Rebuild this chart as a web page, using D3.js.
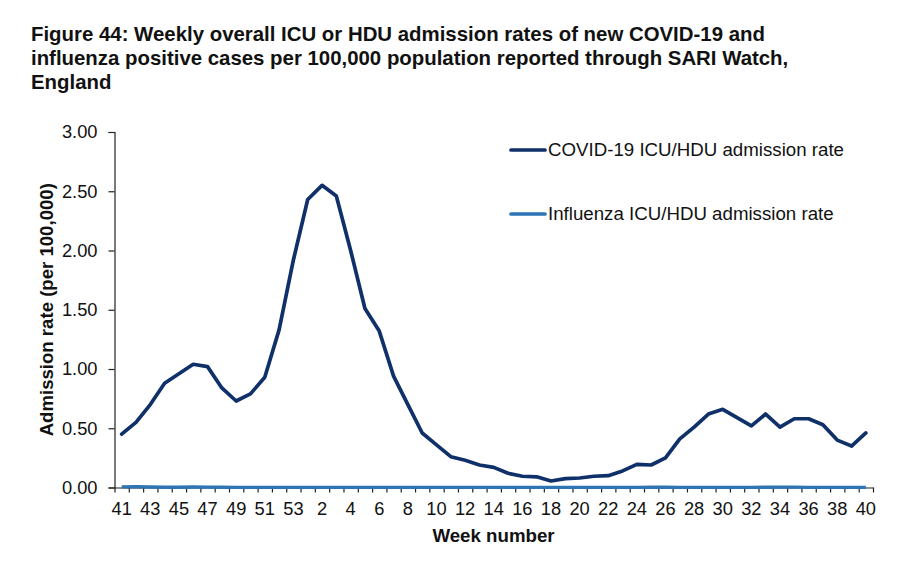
<!DOCTYPE html>
<html><head><meta charset="utf-8">
<script src="https://cdn.jsdelivr.net/npm/d3@7/dist/d3.min.js"></script>
<style>html,body{margin:0;padding:0;background:#fff}svg{display:block}
text{font-family:"Liberation Sans",Arial,sans-serif;fill:#111}</style></head>
<body><svg id="c" width="915" height="568"></svg>
<script>
const weeks=[41,42,43,44,45,46,47,48,49,50,51,52,53,1,2,3,4,5,6,7,8,9,10,11,12,13,14,15,16,17,18,19,20,21,22,23,24,25,26,27,28,29,30,31,32,33,34,35,36,37,38,39,40];
const covid=[.45,.55,.70,.88,.96,1.04,1.02,.84,.73,.79,.93,1.33,1.92,2.43,2.55,2.46,2.00,1.51,1.32,.94,.70,.46,.36,.26,.23,.19,.17,.12,.095,.09,.055,.075,.08,.095,.10,.14,.195,.19,.25,.41,.51,.62,.66,.59,.52,.62,.51,.58,.58,.53,.40,.35,.46];
const flu=[.005,.006,.004,.002,.002,.004,.003,.002,.001,.001,.001,.001,.001,.001,.001,.001,.001,.001,.001,.001,.001,.001,.001,.001,.001,.001,.001,.001,.001,.001,.001,.001,.001,.001,.001,.001,.001,.002,.002,.001,.001,.001,.001,.001,.001,.002,.003,.003,.001,.001,.001,.001,.001];
const yTicks=[0,0.5,1,1.5,2,2.5,3];
const titleLines=["Figure 44: Weekly overall ICU or HDU admission rates of new COVID-19 and","influenza positive cases per 100,000 population reported through SARI Watch,","England"];
const seriesNames=["COVID-19 ICU/HDU admission rate","Influenza ICU/HDU admission rate"];
const colors=["#0f3069","#2e75b6"];

const svg=d3.select("#c");
const L=114.5,R=873,T=132,B=487.5;
const x=d3.scaleBand().domain(d3.range(weeks.length)).range([L,R]);
const xEdge=d3.scaleLinear().domain([0,weeks.length]).range([L,R]);
const y=d3.scaleLinear().domain([0,3]).range([B,T]);

svg.append("g").selectAll("text").data(titleLines).join("text")
  .attr("x",31).attr("y",(d,i)=>41+i*24)
  .attr("font-size",20.4).attr("font-weight","bold").text(d=>d);

const ya=svg.append("g").attr("transform",`translate(${L},0)`)
  .call(d3.axisLeft(y).tickValues(yTicks).tickFormat(d3.format(".2f")).tickSize(6).tickPadding(11));
ya.selectAll("text").attr("font-size",18.3).style("font-family",'"Liberation Sans"');
const xt=svg.append("g").attr("transform",`translate(0,${B})`)
  .call(d3.axisBottom(xEdge).tickValues(d3.range(weeks.length+1)).tickFormat("").tickSize(5).tickSizeOuter(0));
const xl=svg.append("g").attr("transform",`translate(0,${B})`)
  .call(d3.axisBottom(x).tickValues(d3.range(0,weeks.length,2)).tickFormat(i=>weeks[i]).tickSize(0).tickPadding(14.5));
xl.select(".domain").remove();
xl.selectAll("text").attr("font-size",18.3).style("font-family",'"Liberation Sans"');
svg.selectAll(".domain,.tick line").attr("stroke","#222").attr("stroke-width",1.2);

const line=d3.line().x((d,i)=>x(i)+x.bandwidth()/2).y(d=>y(d));
svg.append("path").datum(flu).attr("d",line).attr("fill","none").attr("stroke",colors[1]).attr("stroke-width",3.4);
svg.append("path").datum(covid).attr("d",line).attr("fill","none").attr("stroke",colors[0]).attr("stroke-width",3.7).attr("stroke-linejoin","round").attr("stroke-linecap","round");

svg.append("text").attr("transform",`translate(52.5,${(T+B)/2}) rotate(-90)`).attr("text-anchor","middle")
  .attr("font-size",18.6).attr("font-weight","bold").text("Admission rate (per 100,000)");
svg.append("text").attr("x",493.5).attr("y",542).attr("text-anchor","middle")
  .attr("font-size",18.7).attr("font-weight","bold").text("Week number");

const lg=svg.append("g").selectAll("g").data(seriesNames).join("g")
  .attr("transform",(d,i)=>`translate(0,${[150,214][i]})`);
lg.append("line").attr("x1",511).attr("x2",545).attr("stroke",(d,i)=>colors[i]).attr("stroke-width",3.7).attr("stroke-linecap","round");
lg.append("text").attr("x",548).attr("y",6).attr("font-size",18.7).text(d=>d);
</script></body></html>
